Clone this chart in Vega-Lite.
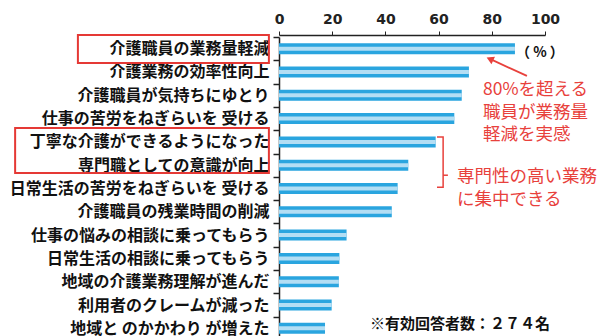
{
  "$schema": "https://vega.github.io/schema/vega-lite/v6.json",
  "autosize": "none",
  "width": 266,
  "height": 303,
  "padding": {"left": 279, "top": 37, "right": 58, "bottom": 0},
  "background": "white",
  "config": {"view": {"stroke": null}, "font": "Noto Sans CJK JP"},
  "datasets": {
    "bars": [
      {"item": "介護職員の業務量軽減", "v": 88.7},
      {"item": "介護業務の効率性向上", "v": 71.4},
      {"item": "介護職員が気持ちにゆとり", "v": 68.7},
      {"item": "仕事の苦労をねぎらいを 受ける", "v": 65.9},
      {"item": "丁寧な介護ができるようになった", "v": 58.9},
      {"item": "専門職としての意識が向上", "v": 48.6},
      {"item": "日常生活の苦労をねぎらいを 受ける", "v": 44.6},
      {"item": "介護職員の残業時間の削減", "v": 42.4},
      {"item": "仕事の悩みの相談に乗ってもらう", "v": 25.4},
      {"item": "日常生活の相談に乗ってもらう", "v": 22.7},
      {"item": "地域の介護業務理解が進んだ", "v": 22.5},
      {"item": "利用者のクレームが減った", "v": 19.8},
      {"item": "地域と のかかわり が増えた", "v": 17.3}
    ],
    "boxes": [
      {"x1": -75.6, "x2": -3.8, "r1": -0.09, "r2": 1.12},
      {"x1": -99.2, "x2": -3.8, "r1": 3.9, "r2": 5.84}
    ],
    "redText": [
      {"t": "80%を超える", "x": 76.7, "r": 2.27},
      {"t": "職員が業務量", "x": 76.7, "r": 3.26},
      {"t": "軽減を実感", "x": 76.7, "r": 4.21},
      {"t": "専門性の高い業務", "x": 66.9, "r": 6.0},
      {"t": "に集中できる", "x": 66.9, "r": 7.0}
    ],
    "pctText": [
      {"t": "（  %  ）", "x": 98.1, "r": 0.69}
    ],
    "noteText": [
      {"t": "※有効回答者数：２７４名", "x": 34.2, "r": 12.3}
    ],
    "bracket": [
      {"x": 59.4, "r": 4.29, "o": 1},
      {"x": 61.7, "r": 4.29, "o": 2},
      {"x": 61.7, "r": 6.45, "o": 3},
      {"x": 59.4, "r": 6.45, "o": 4}
    ],
    "tick": [
      {"x": 61.7, "r": 5.93, "x2": 63.5}
    ],
    "arrow": [
      {"x": 93.2, "r": 1.67, "o": 1},
      {"x": 79.3, "r": 0.94, "o": 2}
    ],
    "head": [
      {"x": 79.3, "r": 0.94}
    ]
  },
  "resolve": {"scale": {"x": "independent", "y": "independent"}},
  "layer": [
    {
      "data": {"name": "bars"},
      "encoding": {
        "y": {
          "field": "item", "type": "nominal", "sort": null,
          "scale": {"paddingOuter": 0, "paddingInner": 0},
          "axis": {
            "title": null, "domainColor": "#222", "domainWidth": 1.5,
            "tickColor": "#222", "tickWidth": 1.5, "tickSize": 6, "tickBand": "extent",
            "labelFontSize": 16, "labelFontWeight": "bold", "labelColor": "#111",
            "labelFont": "Noto Sans CJK JP", "labelPadding": 4, "labelLimit": 400
          }
        },
        "x": {
          "field": "v", "type": "quantitative",
          "scale": {"domain": [0, 100], "nice": false},
          "axis": {
            "orient": "top", "title": null, "values": [0, 20, 40, 60, 80, 100],
            "grid": false, "offset": 2, "domainColor": "#222", "domainWidth": 1.5,
            "tickColor": "#222", "tickSize": 4, "labelPadding": 5,
            "labelFont": "DejaVu Sans", "labelFontSize": 14, "labelFontWeight": "bold",
            "labelColor": "#222", "labelFlush": false
          }
        }
      },
      "layer": [
        {"mark": {"type": "bar", "size": 11, "color": "#2aa5df"}},
        {"mark": {"type": "bar", "size": 4, "color": "#b3def4"}}
      ]
    },
    {
      "encoding": {
        "x": {"field": "x", "type": "quantitative", "scale": {"domain": [0, 100], "nice": false}, "axis": null},
        "y": {"field": "r", "type": "quantitative", "scale": {"domain": [0, 13], "reverse": true, "nice": false, "zero": false}, "axis": null}
      },
      "layer": [
        {
          "data": {"name": "boxes"},
          "mark": {"type": "rect", "fill": null, "filled": false, "stroke": "#e53935", "strokeWidth": 2},
          "encoding": {
            "x": {"field": "x1", "type": "quantitative", "scale": {"domain": [0, 100], "nice": false}, "axis": null},
            "x2": {"field": "x2"},
            "y": {"field": "r1", "type": "quantitative", "scale": {"domain": [0, 13], "reverse": true, "nice": false, "zero": false}, "axis": null},
            "y2": {"field": "r2"}
          }
        },
        {
          "data": {"name": "redText"},
          "mark": {"type": "text", "align": "left", "baseline": "middle", "fontSize": 17.5, "color": "#e8413c", "font": "Noto Sans CJK JP"},
          "encoding": {"text": {"field": "t"}}
        },
        {
          "data": {"name": "pctText"},
          "mark": {"type": "text", "align": "center", "baseline": "middle", "fontSize": 14, "fontWeight": "bold", "color": "#111", "font": "Noto Sans CJK JP"},
          "encoding": {"text": {"field": "t"}}
        },
        {
          "data": {"name": "noteText"},
          "mark": {"type": "text", "align": "left", "baseline": "middle", "fontSize": 15, "fontWeight": "bold", "color": "#111", "font": "Noto Sans CJK JP"},
          "encoding": {"text": {"field": "t"}}
        },
        {
          "data": {"name": "bracket"},
          "mark": {"type": "line", "color": "#e8413c", "strokeWidth": 1.5},
          "encoding": {"order": {"field": "o"}}
        },
        {
          "data": {"name": "tick"},
          "mark": {"type": "rule", "color": "#e8413c", "strokeWidth": 1.5},
          "encoding": {"x2": {"field": "x2"}}
        },
        {
          "data": {"name": "arrow"},
          "mark": {"type": "line", "color": "#e8413c", "strokeWidth": 1.8},
          "encoding": {"order": {"field": "o"}}
        },
        {
          "data": {"name": "head"},
          "mark": {"type": "point", "shape": "triangle-up", "filled": true, "size": 70, "color": "#e8413c", "opacity": 1, "angle": 295},
          "encoding": {}
        }
      ]
    }
  ]
}
